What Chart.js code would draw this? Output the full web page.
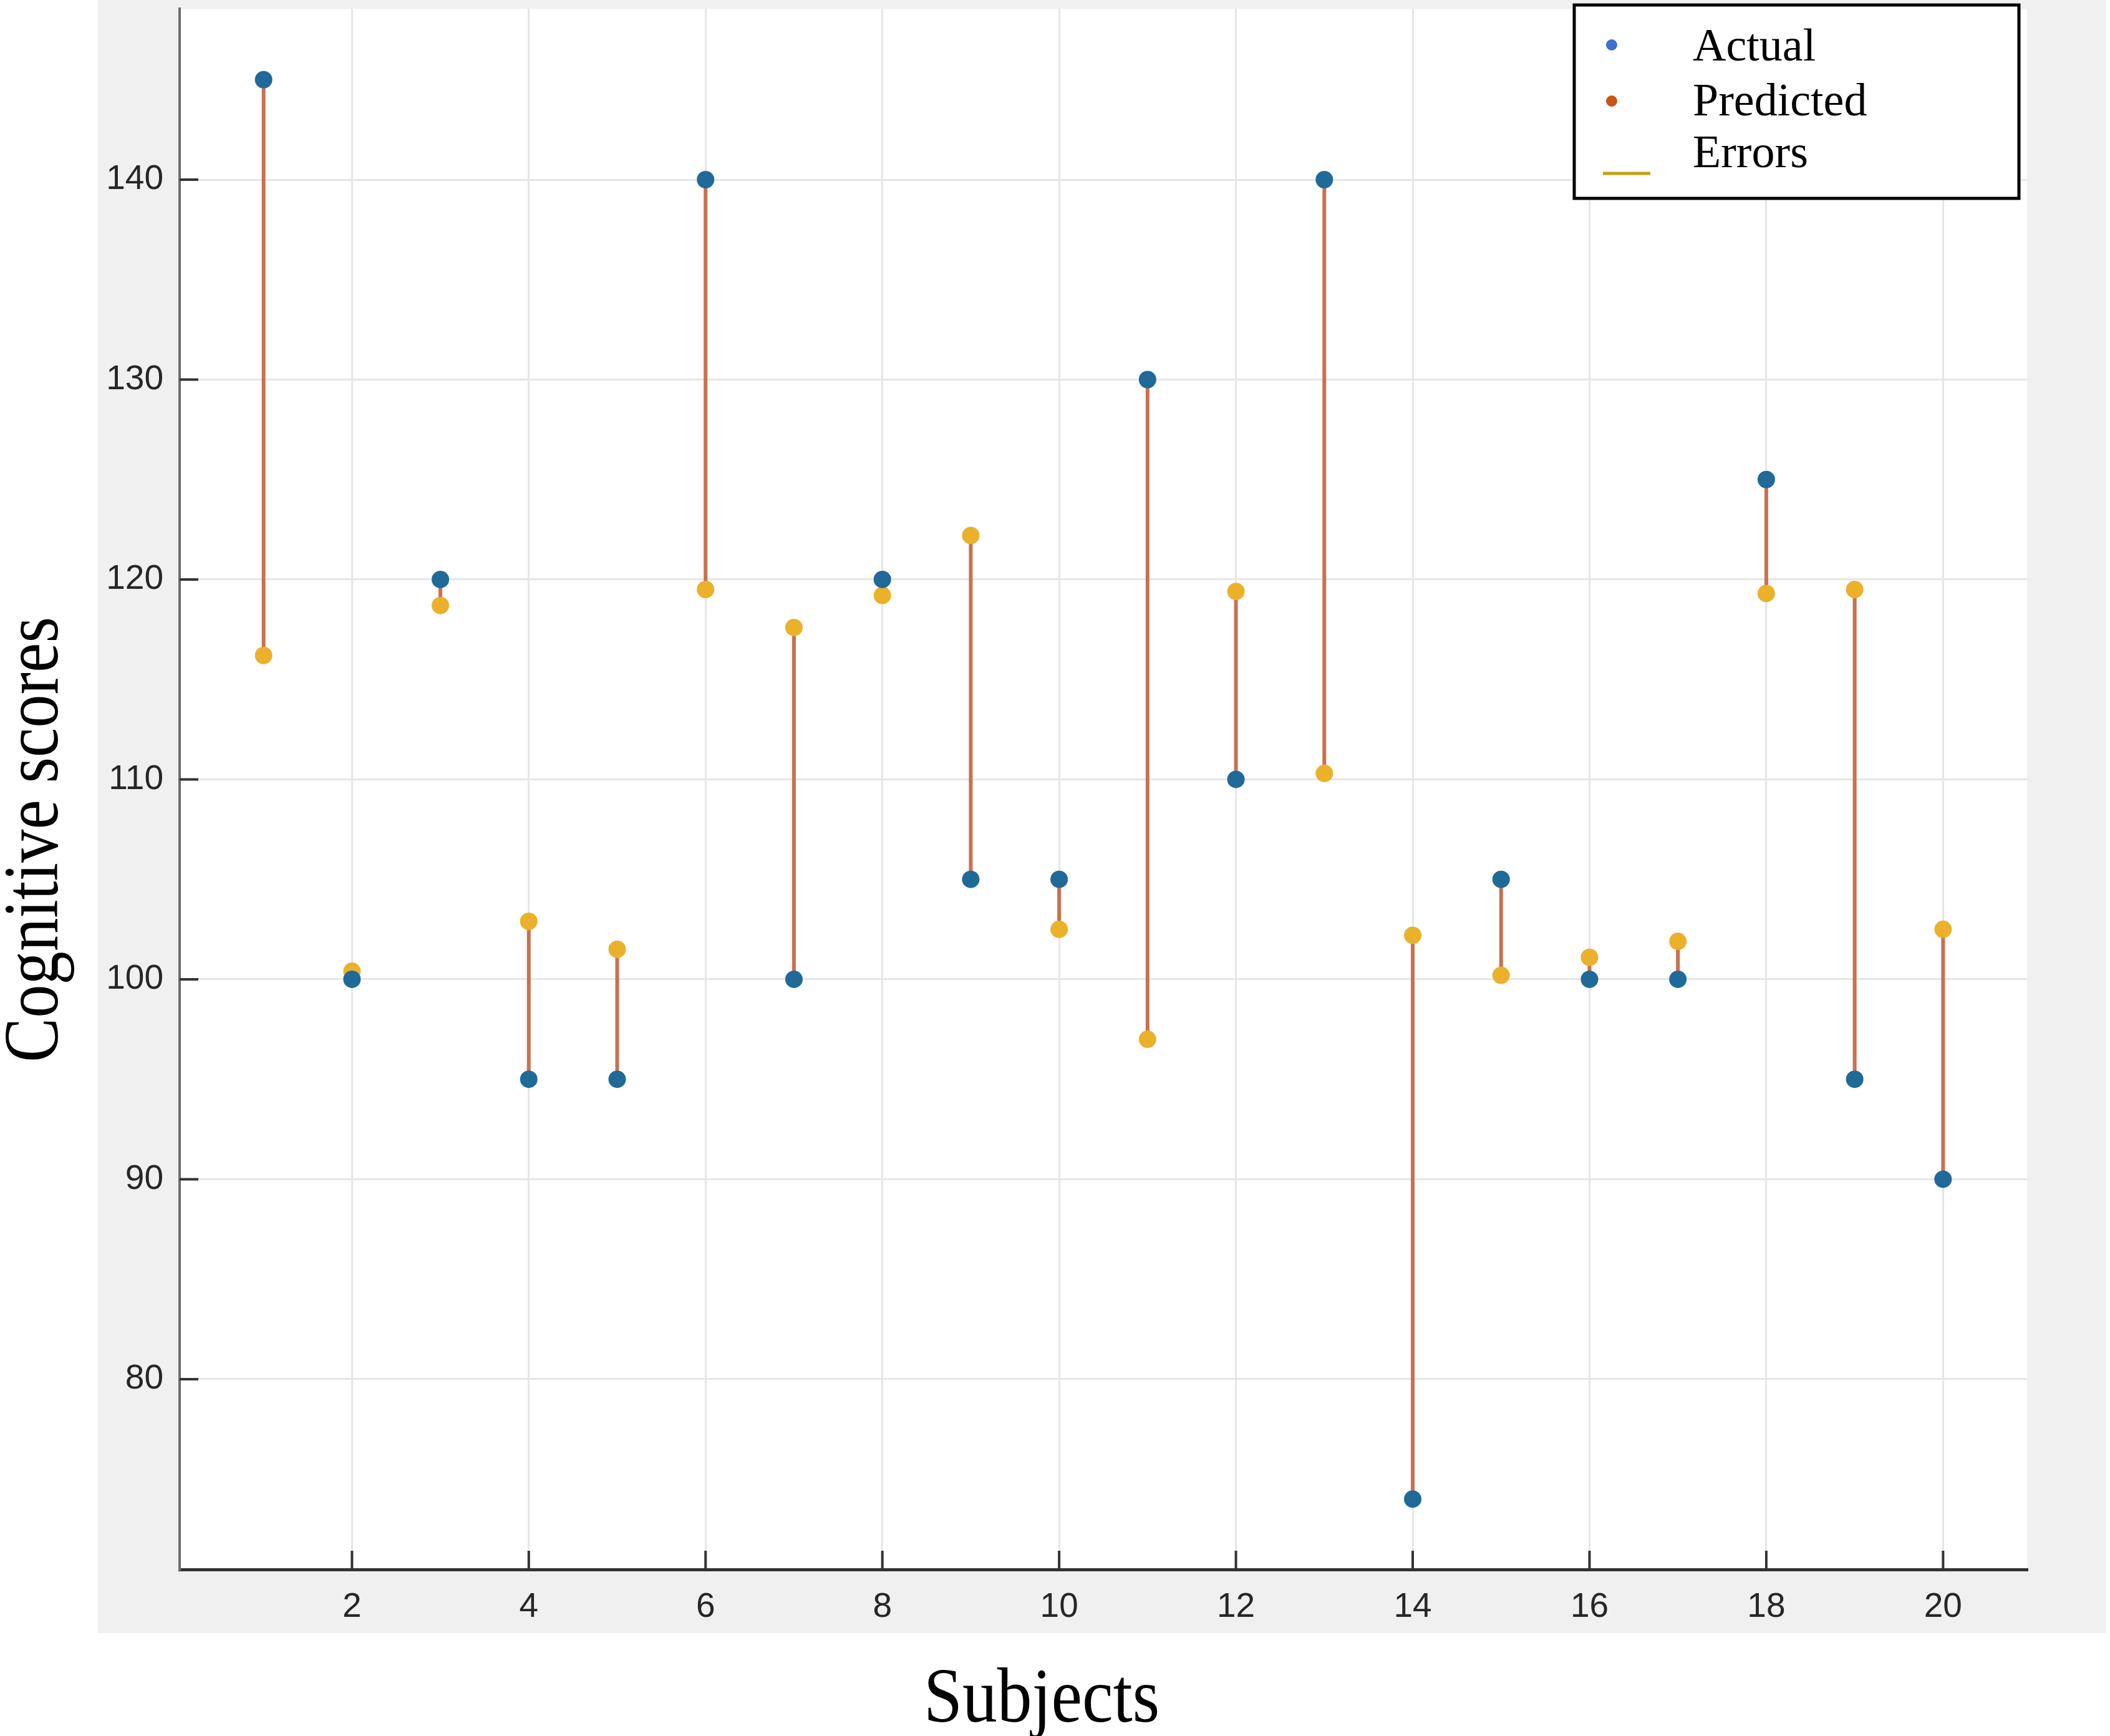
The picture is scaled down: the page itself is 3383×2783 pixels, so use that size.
<!DOCTYPE html>
<html>
<head>
<meta charset="utf-8">
<title>Actual vs predicted cognitive scores</title>
<script src="https://cdn.jsdelivr.net/npm/chart.js@4.4.1/dist/chart.umd.min.js"></script>
<style>
  html, body { margin: 0; padding: 0; background: #fff; }
  canvas { display: block; }
</style>
</head>
<body>
<canvas id="errorChart" width="3383" height="2783"></canvas>
<script>
// datos
const subjects = [1, 2, 3, 4, 5, 6, 7, 8, 9, 10, 11, 12, 13, 14, 15, 16, 17, 18, 19, 20];
const actualScores = [145, 100, 120, 95, 95, 140, 100, 120, 105, 105, 130, 110, 140, 74, 105, 100, 100, 125, 95, 90];
const predictedScores = [116.2, 100.4, 118.7, 102.9, 101.5, 119.5, 117.6, 119.2, 122.2, 102.5, 97.0, 119.4, 110.3, 102.2, 100.2, 101.1, 101.9, 119.3, 119.5, 102.5];
const xTicks = [2, 4, 6, 8, 10, 12, 14, 16, 18, 20];
const yTicks = [80, 90, 100, 110, 120, 130, 140];
const legendLabels = ['Actual', 'Predicted', 'Errors'];
const xTitle = 'Subjects';
const yTitle = 'Cognitive scores';

// linea de error: dos puntos por sujeto y un hueco entre ellos
const errorSegments = [];
subjects.forEach((s, i) => {
    errorSegments.push({ x: s, y: actualScores[i] });
    errorSegments.push({ x: s, y: predictedScores[i] });
    errorSegments.push({ x: s, y: null });
});

// fondo gris de la figura y area blanca del grafico
const backgroundPlugin = {
    id: 'figureBackground',
    beforeDraw(chart) {
        const { ctx, chartArea } = chart;
        ctx.save();
        ctx.fillStyle = '#ffffff';
        ctx.fillRect(0, 0, chart.width, chart.height);
        ctx.fillStyle = '#f0f0f0';
        ctx.fillRect(157, 0, 3377 - 157, 2618);
        ctx.fillStyle = '#ffffff';
        ctx.fillRect(chartArea.left, chartArea.top, chartArea.right - chartArea.left, chartArea.bottom - chartArea.top);
        ctx.restore();
    }
};

// marcas de los ejes hacia dentro (estilo MATLAB)
const innerTicksPlugin = {
    id: 'innerTicks',
    beforeDatasetsDraw(chart) {
        const { ctx, chartArea, scales } = chart;
        ctx.save();
        ctx.strokeStyle = '#333333';
        ctx.lineWidth = 4;
        ctx.beginPath();
        scales.y.ticks.forEach(t => {
            const py = scales.y.getPixelForValue(t.value);
            ctx.moveTo(chartArea.left, py);
            ctx.lineTo(chartArea.left + 30, py);
        });
        scales.x.ticks.forEach(t => {
            const px = scales.x.getPixelForValue(t.value);
            ctx.moveTo(px, chartArea.bottom);
            ctx.lineTo(px, chartArea.bottom - 30);
        });
        ctx.stroke();
        ctx.restore();
    }
};

// titulos de ejes en serif, algo estrechados como en la figura
const axisTitlesPlugin = {
    id: 'axisTitles',
    afterDraw(chart) {
        const { ctx } = chart;
        ctx.save();
        ctx.fillStyle = '#000000';
        ctx.font = '124px "Liberation Serif", "Times New Roman", serif';
        ctx.textAlign = 'center';
        ctx.textBaseline = 'alphabetic';

        ctx.save();
        ctx.translate(1670, 2760);
        ctx.scale(0.9, 1);
        ctx.fillText(xTitle, 0, 0);
        ctx.restore();

        ctx.save();
        ctx.translate(92, 1346);
        ctx.rotate(-Math.PI / 2);
        ctx.scale(0.86, 1);
        ctx.fillText(yTitle, 0, 0);
        ctx.restore();

        ctx.restore();
    }
};

// leyenda dentro del area, arriba a la derecha
const legendBoxPlugin = {
    id: 'legendBox',
    afterDraw(chart) {
        const { ctx } = chart;
        const box = { left: 2524, top: 8, right: 3237, bottom: 318 };
        ctx.save();
        ctx.fillStyle = '#ffffff';
        ctx.fillRect(box.left, box.top, box.right - box.left, box.bottom - box.top);
        ctx.strokeStyle = '#000000';
        ctx.lineWidth = 5;
        ctx.strokeRect(box.left, box.top, box.right - box.left, box.bottom - box.top);

        ctx.fillStyle = '#3f6fcf';
        ctx.beginPath();
        ctx.arc(2584, 72, 9, 0, Math.PI * 2);
        ctx.fill();
        ctx.fillStyle = '#cc5318';
        ctx.beginPath();
        ctx.arc(2584, 162, 9, 0, Math.PI * 2);
        ctx.fill();
        ctx.strokeStyle = '#c9a010';
        ctx.lineWidth = 5;
        ctx.beginPath();
        ctx.moveTo(2570, 278);
        ctx.lineTo(2646, 278);
        ctx.stroke();

        ctx.fillStyle = '#000000';
        ctx.font = '74px "Liberation Serif", "Times New Roman", serif';
        ctx.textAlign = 'left';
        ctx.textBaseline = 'alphabetic';
        ctx.fillText(legendLabels[0], 2714, 97);
        ctx.fillText(legendLabels[1], 2714, 185);
        ctx.fillText(legendLabels[2], 2714, 268);
        ctx.restore();
    }
};

const ctx = document.getElementById('errorChart').getContext('2d');

const myChart = new Chart(ctx, {
    type: 'scatter',
    data: {
        datasets: [
            {
                label: legendLabels[0],
                data: subjects.map((s, i) => ({ x: s, y: actualScores[i] })),
                backgroundColor: '#1f6a99',
                borderColor: '#1f6a99',
                pointRadius: 14,
                pointBorderWidth: 0,
                showLine: false
            },
            {
                label: legendLabels[1],
                data: subjects.map((s, i) => ({ x: s, y: predictedScores[i] })),
                backgroundColor: '#ebb12b',
                borderColor: '#ebb12b',
                pointRadius: 14,
                pointBorderWidth: 0,
                showLine: false
            },
            {
                type: 'line',
                label: legendLabels[2],
                data: errorSegments,
                borderColor: '#c9714f',
                borderWidth: 6,
                pointRadius: 0,
                spanGaps: false,
                fill: false
            }
        ]
    },
    options: {
        responsive: false,
        devicePixelRatio: 1,
        animation: false,
        layout: { padding: { left: 0, top: 2, right: 133, bottom: 0 } },
        plugins: {
            legend: { display: false },
            tooltip: { enabled: false }
        },
        scales: {
            x: {
                type: 'linear',
                min: 0.05,
                max: 20.95,
                afterBuildTicks: scale => { scale.ticks = xTicks.map(v => ({ value: v })); },
                afterFit: scale => {
                    scale.height = 267;
                    scale.paddingLeft = 0;
                    scale.paddingRight = 0;
                },
                grid: { color: '#e6e6e6', lineWidth: 3, drawTicks: false },
                border: { color: '#333333', width: 5 },
                ticks: {
                    color: '#262626',
                    padding: 28,
                    font: { family: '"Liberation Sans", Arial, sans-serif', size: 55 }
                }
            },
            y: {
                type: 'linear',
                min: 70.48,
                max: 148.55,
                afterBuildTicks: scale => { scale.ticks = yTicks.map(v => ({ value: v })); },
                afterFit: scale => {
                    scale.width = 288;
                    scale.paddingTop = 0;
                    scale.paddingBottom = 0;
                },
                grid: { color: '#e6e6e6', lineWidth: 3, drawTicks: false },
                border: { color: '#6e6e6e', width: 4 },
                ticks: {
                    color: '#262626',
                    padding: 26,
                    font: { family: '"Liberation Sans", Arial, sans-serif', size: 55 }
                }
            }
        }
    },
    plugins: [backgroundPlugin, innerTicksPlugin, axisTitlesPlugin, legendBoxPlugin]
});
</script>
</body>
</html>
